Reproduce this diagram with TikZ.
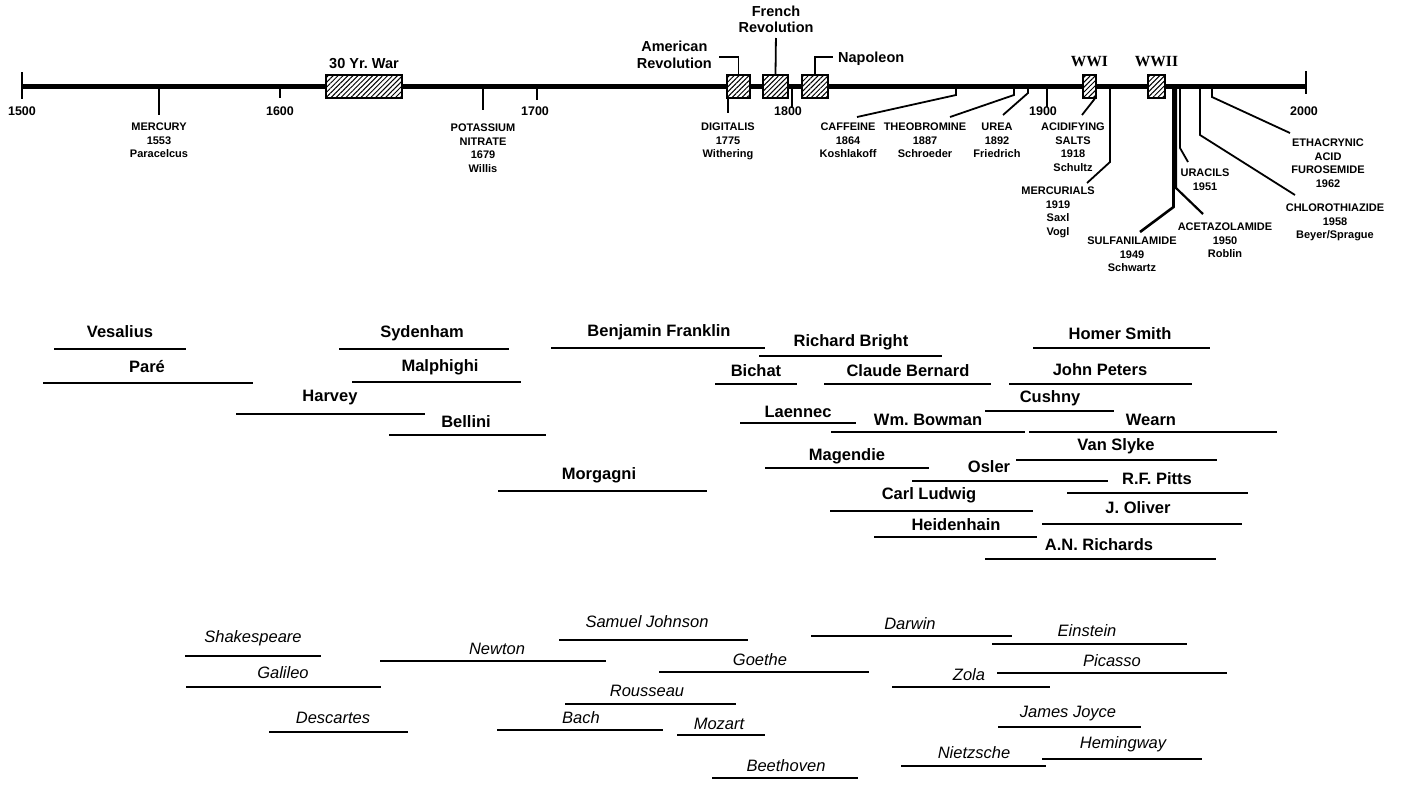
\documentclass[tikz,border=0pt]{standalone}
\usepackage{fontspec}
\setmainfont{Liberation Sans}
\newfontfamily\warfont{Liberation Serif}
\usetikzlibrary{positioning,calc,patterns.meta}
\frenchspacing

\begin{document}
\begin{tikzpicture}[x=1pt, y=-1pt,
    axisline/.style={line width=5pt},
    endtick/.style={line width=2.5pt},
    yeartick/.style={line width=2pt},
    lead/.style={line width=1.8pt},
    bracket/.style={line width=1.8pt},
    period/.style={draw, line width=1.5pt, preaction={fill=white}, pattern={Lines[angle=45,distance=3.5pt,line width=1pt]}, minimum height=23pt, inner sep=0pt},
    event/.style={font=\fontsize{14.5}{16.5}\selectfont\bfseries, align=center, inner sep=0pt},
    war/.style={font=\warfont\bfseries\fontsize{15.5}{17}\selectfont, inner sep=0pt},
    yearlbl/.style={font=\fontsize{12.5}{14}\selectfont\bfseries, inner sep=0pt},
    drug/.style={font=\fontsize{11}{13.5}\selectfont\bfseries, align=center, inner sep=0pt, anchor=north},
    sci/.style={font=\fontsize{16.5}{18}\selectfont\bfseries, inner sep=0pt, text height=12pt, text depth=3.5pt},
    art/.style={font=\fontsize{16.5}{18}\selectfont\itshape, inner sep=0pt, text height=12pt, text depth=3.5pt},
    lifebar/.style={line width=2pt}]
    \fill[white] (0,0) rectangle (1401,785);
    \useasboundingbox (0,0) rectangle (1401,785);

    % Axis
    \coordinate (y1553) at (159,86);
    \coordinate (y1679) at (483,86);
    \coordinate (y1775) at (728,86);
    \coordinate (y1864) at (956,86);
    \coordinate (y1887) at (1014,86);
    \coordinate (y1892) at (1028,86);
    \coordinate (y1919) at (1110,86);
    \coordinate (y1949) at (1173.5,86);
    \coordinate (y1950) at (1176,86);
    \coordinate (y1951) at (1180,86);
    \coordinate (y1958) at (1200,86);
    \coordinate (y1962) at (1212,86);
    \draw[axisline] (22,86) -- (1306,86);
    \draw[endtick] (22,72) -- (22,99);
    \draw[endtick] (1306,71) -- (1306,94);
    \draw[yeartick] (280,86) -- (280,98);
    \draw[yeartick] (537,86) -- (537,100);
    \draw[yeartick] (792,86) -- (792,108);
    \draw[yeartick] (1047,86) -- (1047,107);
    \node[yearlbl] (t1500) at (22,111) {1500};
    \node[yearlbl] (t1600) at (280,111) {1600};
    \node[yearlbl] (t1700) at (535,111) {1700};
    \node[yearlbl] (t1800) at (788,111) {1800};
    \node[yearlbl] (t1900) at (1043,111) {1900};
    \node[yearlbl] (t2000) at (1304,111) {2000};

    % Drug labels
    \node[drug] (mercury) at (159,123) {MERCURY\\1553\\Paracelcus};
    \node[drug] (potassium) at (483,124) {POTASSIUM\\NITRATE\\1679\\Willis};
    \node[drug] (digitalis) at (728,123) {DIGITALIS\\1775\\Withering};
    \node[drug] (caffeine) at (848,123) {CAFFEINE\\1864\\Koshlakoff};
    \node[drug] (theobromine) at (925,123) {THEOBROMINE\\1887\\Schroeder};
    \node[drug] (urea) at (997,123) {UREA\\1892\\Friedrich};
    \node[drug] (acidifying) at (1073,123) {ACIDIFYING\\SALTS\\1918\\Schultz};
    \node[drug] (mercurials) at (1058,187) {MERCURIALS\\1919\\Saxl\\Vogl};
    \node[drug] (sulfanilamide) at (1132,237) {SULFANILAMIDE\\1949\\Schwartz};
    \node[drug] (acetazolamide) at (1225,223) {ACETAZOLAMIDE\\1950\\Roblin};
    \node[drug] (uracils) at (1205,169) {URACILS\\1951};
    \node[drug] (chlorothiazide) at (1335,204) {CHLOROTHIAZIDE\\1958\\Beyer/Sprague};
    \node[drug] (ethacrynic) at (1328,139) {ETHACRYNIC\\ACID\\FUROSEMIDE\\1962};

    % Leads
    \draw[lead, shorten >=8pt] (y1553) -- (mercury.north);
    \draw[lead, shorten >=14pt] (y1679) -- (potassium.north);
    \draw[lead, shorten >=10pt] (y1775) -- (digitalis.north);
    \draw[lead] (y1864) -- ++(0,9) -- ($(caffeine.north)+(9,-6)$);
    \draw[lead] (y1887) -- ++(0,9) -- ($(theobromine.north)+(25,-6)$);
    \draw[lead] (y1892) -- ++(0,7) -- ($(urea.north)+(6,-8)$);
    \draw[lead] (y1919) -- ++(0,76) -- ($(mercurials.north)+(29,-4)$);
    \draw[lead, line width=2.6pt] (y1949) -- ++(0,121) -- ($(sulfanilamide.north)+(8,-5)$);
    \draw[lead, line width=2.2pt] (y1950) -- ++(0,102) -- ($(acetazolamide.north)+(-22,-9)$);
    \draw[lead] (y1951) -- ++(0,62) -- ($(uracils.north)+(-17,-7)$);
    \draw[lead] (y1958) -- ++(0,49) -- ($(chlorothiazide.north)+(-40,-9)$);
    \draw[lead] (y1962) -- ++(0,11) -- ($(ethacrynic.north)+(-38,-6)$);

    % Periods
    \node[period, minimum width=76pt] (war30) at (364,86.5) {};
    \node[period, minimum width=23pt] (amrev) at (738.5,86.5) {};
    \node[period, minimum width=25pt] (frrev) at (775.5,86.5) {};
    \node[period, minimum width=26pt] (napo) at (815,86.5) {};
    \node[period, minimum width=13pt] (wwi) at (1089.5,86.5) {};
    \node[period, minimum width=17pt] (wwii) at (1156.5,86.5) {};
    \node[event, above=6pt of war30] (warlbl) {30 Yr. War};
    \node[event, anchor=east] (amlbl) at (712,55) {American\\Revolution};
    \node[event, anchor=south] (frlbl) at (776,33) {French\\Revolution};
    \node[event, anchor=west] (naplbl) at (838,58.5) {Napoleon};
    \node[war, above=7pt of wwi] (wwilbl) {WWI};
    \node[war, above=7pt of wwii] (wwiilbl) {WWII};
    \draw[bracket] (amrev.north) |- ($(amlbl.east)+(7,2)$);
    \draw[bracket, shorten >=5pt] (frrev.north) -- (frlbl.south);
    \draw[bracket] (napo.north) |- ($(naplbl.west)+(-5,-1.5)$);
    \draw[lead] ($(wwi.south east)+(-2,0)$) -- ($(acidifying.north)+(9,-8)$);

    % Physiologists
    \node[sci] (vesalius) at (120,333) {Vesalius};
    \draw[lifebar] (54,349) -- (186,349);
    \node[sci] (pare) at (147,368) {Paré};
    \draw[lifebar] (43,383) -- (253,383);
    \node[sci] (harvey) at (330,397) {Harvey};
    \draw[lifebar] (236,414) -- (425,414);
    \node[sci] (sydenham) at (422,333) {Sydenham};
    \draw[lifebar] (339,349) -- (509,349);
    \node[sci] (malphighi) at (440,367) {Malphighi};
    \draw[lifebar] (352,382) -- (521,382);
    \node[sci] (bellini) at (466,423) {Bellini};
    \draw[lifebar] (389,435) -- (546,435);
    \node[sci] (morgagni) at (599,475) {Morgagni};
    \draw[lifebar] (498,491) -- (707,491);
    \node[sci] (franklin) at (659,332) {Benjamin Franklin};
    \draw[lifebar] (551,348) -- (765,348);
    \node[sci] (bright) at (851,342) {Richard Bright};
    \draw[lifebar] (759,356) -- (942,356);
    \node[sci] (bichat) at (756,372) {Bichat};
    \draw[lifebar] (715,384) -- (797,384);
    \node[sci] (bernard) at (908,372) {Claude Bernard};
    \draw[lifebar] (824,384) -- (991,384);
    \node[sci] (homersmith) at (1120,335) {Homer Smith};
    \draw[lifebar] (1033,348) -- (1210,348);
    \node[sci] (peters) at (1100,371) {John Peters};
    \draw[lifebar] (1009,384) -- (1192,384);
    \node[sci] (cushny) at (1050,398) {Cushny};
    \draw[lifebar] (985,411) -- (1114,411);
    \node[sci] (laennec) at (798,413) {Laennec};
    \draw[lifebar] (740,423) -- (856,423);
    \node[sci] (bowman) at (928,421) {Wm. Bowman};
    \draw[lifebar] (831,432) -- (1025,432);
    \node[sci] (wearn) at (1151,421) {Wearn};
    \draw[lifebar] (1029,432) -- (1277,432);
    \node[sci] (vanslyke) at (1116,446) {Van Slyke};
    \draw[lifebar] (1016,460) -- (1217,460);
    \node[sci] (magendie) at (847,456) {Magendie};
    \draw[lifebar] (765,468) -- (929,468);
    \node[sci] (osler) at (989,468) {Osler};
    \draw[lifebar] (912,481) -- (1108,481);
    \node[sci] (pitts) at (1157,480) {R.F. Pitts};
    \draw[lifebar] (1067,493) -- (1248,493);
    \node[sci] (ludwig) at (929,495) {Carl Ludwig};
    \draw[lifebar] (830,511) -- (1033,511);
    \node[sci] (oliver) at (1138,509) {J. Oliver};
    \draw[lifebar] (1042,524) -- (1242,524);
    \node[sci] (heidenhain) at (956,526) {Heidenhain};
    \draw[lifebar] (874,537) -- (1037,537);
    \node[sci] (richards) at (1099,546) {A.N. Richards};
    \draw[lifebar] (985,559) -- (1216,559);

    % Writers, artists
    \node[art] (shakespeare) at (253,638) {Shakespeare};
    \draw[lifebar] (185,656) -- (321,656);
    \node[art] (newton) at (497,650) {Newton};
    \draw[lifebar] (380,661) -- (606,661);
    \node[art] (johnson) at (647,623) {Samuel Johnson};
    \draw[lifebar] (559,640) -- (748,640);
    \node[art] (galileo) at (283,674) {Galileo};
    \draw[lifebar] (186,687) -- (381,687);
    \node[art] (goethe) at (760,661) {Goethe};
    \draw[lifebar] (659,672) -- (869,672);
    \node[art] (rousseau) at (647,692) {Rousseau};
    \draw[lifebar] (565,704) -- (736,704);
    \node[art] (descartes) at (333,719) {Descartes};
    \draw[lifebar] (269,732) -- (408,732);
    \node[art] (bach) at (581,719) {Bach};
    \draw[lifebar] (497,730) -- (663,730);
    \node[art] (mozart) at (719,725) {Mozart};
    \draw[lifebar] (677,735) -- (765,735);
    \node[art] (beethoven) at (786,767) {Beethoven};
    \draw[lifebar] (712,778) -- (858,778);
    \node[art] (darwin) at (910,625) {Darwin};
    \draw[lifebar] (811,636) -- (1012,636);
    \node[art] (einstein) at (1087,632) {Einstein};
    \draw[lifebar] (992,644) -- (1187,644);
    \node[art] (picasso) at (1112,662) {Picasso};
    \draw[lifebar] (997,673) -- (1227,673);
    \node[art] (zola) at (969,676) {Zola};
    \draw[lifebar] (892,687) -- (1050,687);
    \node[art] (joyce) at (1068,713) {James Joyce};
    \draw[lifebar] (998,727) -- (1141,727);
    \node[art] (hemingway) at (1123,744) {Hemingway};
    \draw[lifebar] (1042,759) -- (1202,759);
    \node[art] (nietzsche) at (974,754) {Nietzsche};
    \draw[lifebar] (901,766) -- (1046,766);
\end{tikzpicture}
\end{document}
